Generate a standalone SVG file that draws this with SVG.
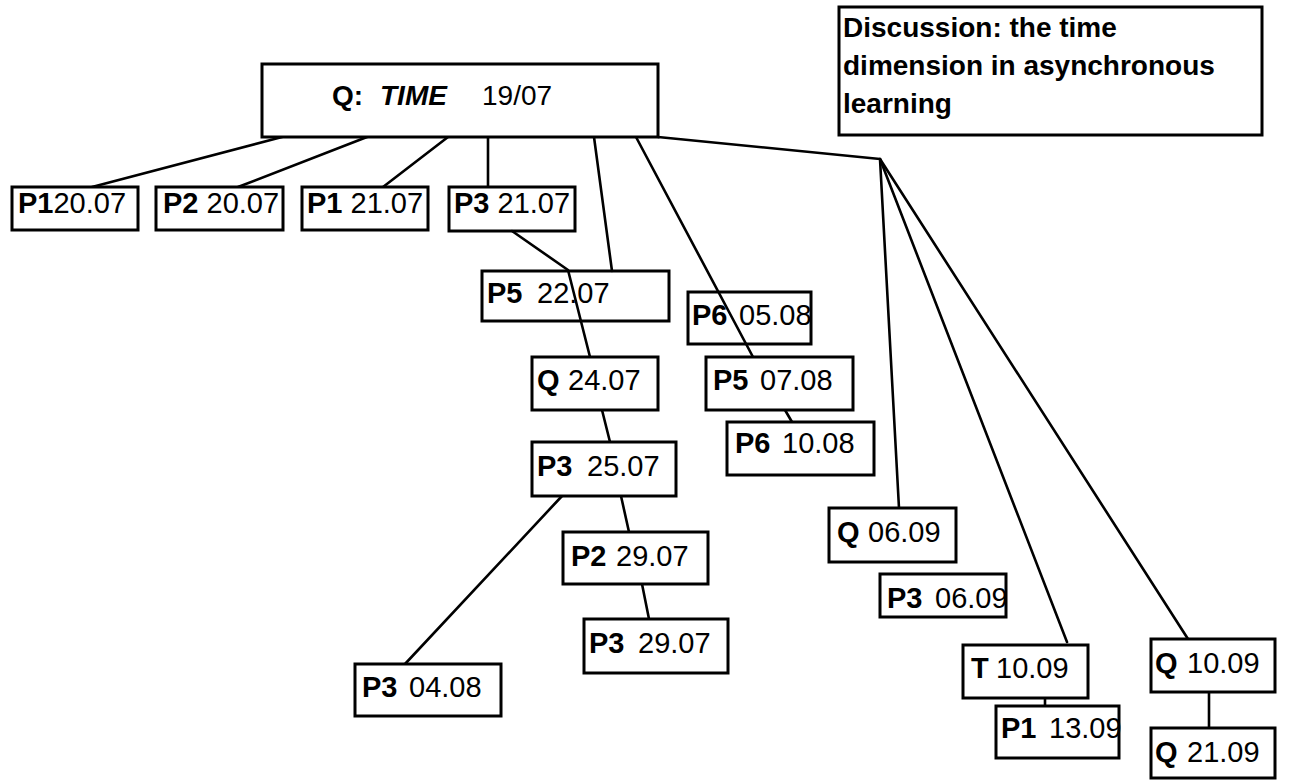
<svg xmlns="http://www.w3.org/2000/svg" width="1300" height="780" viewBox="0 0 1300 780">
  <style>
    .box { fill: #fff; stroke: #000; stroke-width: 3; }
    .lnk { fill: none; stroke: #000; stroke-width: 2.6; stroke-linecap: round; stroke-linejoin: round; }
    text { font-family: "Liberation Sans", Arial, sans-serif; font-size: 29px; fill: #000; }
    .b { font-weight: bold; }
    .root { font-size: 28px; }
    .bi { font-weight: bold; font-style: italic; }
    .title { font-size: 28px; font-weight: bold; }
  </style>
  <rect width="1300" height="780" fill="#fff"/>

  <!-- connectors -->
  <g id="connectors">
    <line class="lnk" x1="282" y1="137" x2="92" y2="187"/>
    <line class="lnk" x1="367" y1="137" x2="238" y2="187"/>
    <line class="lnk" x1="448" y1="137" x2="383" y2="187"/>
    <line class="lnk" x1="488" y1="137" x2="488" y2="187"/>
    <line class="lnk" x1="594" y1="137" x2="612" y2="271"/>
    <line class="lnk" x1="636" y1="137" x2="753" y2="357"/>
    <polyline class="lnk" points="658,137 880,159 899,508"/>
    <line class="lnk" x1="880" y1="159" x2="1067" y2="642"/>
    <line class="lnk" x1="880" y1="159" x2="1188" y2="639"/>
    <line class="lnk" x1="785" y1="410" x2="792" y2="422"/>
    <line class="lnk" x1="602" y1="410" x2="610" y2="442"/>
    <line class="lnk" x1="562" y1="496" x2="405" y2="664"/>
    <line class="lnk" x1="621" y1="496" x2="629" y2="532"/>
    <line class="lnk" x1="642" y1="584" x2="649" y2="619"/>
    <line class="lnk" x1="1045" y1="698" x2="1045" y2="706"/>
    <line class="lnk" x1="1209" y1="692" x2="1209" y2="728"/>
  </g>

  <!-- caption box -->
  <g id="title">
    <rect class="box" x="839" y="7" width="423" height="128"/>
    <text class="title" x="843" y="37">Discussion: the time</text>
    <text class="title" x="843" y="75">dimension in asynchronous</text>
    <text class="title" x="843" y="113">learning</text>
  </g>

  <!-- root question -->
  <g id="root">
    <rect class="box" x="262" y="64" width="396" height="73"/>
    <text class="root" y="105"><tspan class="b" x="332">Q:</tspan><tspan class="bi" x="380">TIME</tspan><tspan x="482">19/07</tspan></text>
  </g>

  <!-- first-level replies -->
  <g id="n-p1-2007">
    <rect class="box" x="12" y="187" width="126" height="43"/>
    <text x="18" y="213"><tspan class="b">P1</tspan>20.07</text>
  </g>
  <g id="n-p2-2007">
    <rect class="box" x="156" y="187" width="127" height="43"/>
    <text x="163" y="213"><tspan class="b">P2</tspan> 20.07</text>
  </g>
  <g id="n-p1-2107">
    <rect class="box" x="302" y="187" width="126" height="43"/>
    <text x="307" y="213"><tspan class="b">P1</tspan> 21.07</text>
  </g>
  <g id="n-p3-2107">
    <rect class="box" x="449" y="187" width="126" height="44"/>
    <text x="454" y="213"><tspan class="b">P3</tspan> 21.07</text>
  </g>

  <!-- July thread -->
  <polyline class="lnk" points="512,231 568,270 590,357"/>
  <g id="n-p5-2207">
    <rect class="box" x="482" y="271" width="187" height="50" fill-opacity="0"/>
    <text y="303"><tspan class="b" x="487">P5</tspan><tspan x="537">22.07</tspan></text>
  </g>
  <g id="n-q-2407">
    <rect class="box" x="532" y="357" width="126" height="53"/>
    <text y="390"><tspan class="b" x="537">Q</tspan><tspan x="568">24.07</tspan></text>
  </g>
  <g id="n-p3-2507">
    <rect class="box" x="532" y="442" width="144" height="54"/>
    <text y="476"><tspan class="b" x="537">P3</tspan><tspan x="587">25.07</tspan></text>
  </g>
  <g id="n-p2-2907">
    <rect class="box" x="563" y="532" width="145" height="52"/>
    <text y="566"><tspan class="b" x="571">P2</tspan><tspan x="616">29.07</tspan></text>
  </g>
  <g id="n-p3-2907">
    <rect class="box" x="584" y="619" width="144" height="54"/>
    <text y="653"><tspan class="b" x="589">P3</tspan><tspan x="638">29.07</tspan></text>
  </g>
  <g id="n-p3-0408">
    <rect class="box" x="355" y="664" width="146" height="52"/>
    <text y="697"><tspan class="b" x="362">P3</tspan><tspan x="409">04.08</tspan></text>
  </g>

  <!-- August thread -->
  <g id="n-p6-0508">
    <rect class="box" x="688" y="292" width="123" height="52" fill-opacity="0"/>
    <text y="325"><tspan class="b" x="692">P6</tspan><tspan x="739">05.08</tspan></text>
  </g>
  <g id="n-p5-0708">
    <rect class="box" x="706" y="357" width="147" height="53"/>
    <text y="390"><tspan class="b" x="713">P5</tspan><tspan x="760">07.08</tspan></text>
  </g>
  <g id="n-p6-1008">
    <rect class="box" x="727" y="422" width="147" height="53"/>
    <text y="453"><tspan class="b" x="735">P6</tspan><tspan x="782">10.08</tspan></text>
  </g>

  <!-- September thread -->
  <g id="n-q-0609">
    <rect class="box" x="829" y="508" width="127" height="54"/>
    <text y="542"><tspan class="b" x="837">Q</tspan><tspan x="868">06.09</tspan></text>
  </g>
  <g id="n-p3-0609">
    <rect class="box" x="880" y="574" width="126" height="43"/>
    <text y="608"><tspan class="b" x="887">P3</tspan><tspan x="935">06.09</tspan></text>
  </g>
  <g id="n-t-1009">
    <rect class="box" x="963" y="645" width="125" height="53"/>
    <text y="678"><tspan class="b" x="971">T</tspan><tspan x="996">10.09</tspan></text>
  </g>
  <g id="n-p1-1309">
    <rect class="box" x="996" y="706" width="123" height="52"/>
    <text y="738"><tspan class="b" x="1001">P1</tspan><tspan x="1049">13.09</tspan></text>
  </g>
  <g id="n-q-1009">
    <rect class="box" x="1151" y="639" width="124" height="53"/>
    <text y="673"><tspan class="b" x="1155">Q</tspan><tspan x="1187">10.09</tspan></text>
  </g>
  <g id="n-q-2109">
    <rect class="box" x="1151" y="728" width="124" height="50"/>
    <text y="762"><tspan class="b" x="1155">Q</tspan><tspan x="1187">21.09</tspan></text>
  </g>
</svg>
